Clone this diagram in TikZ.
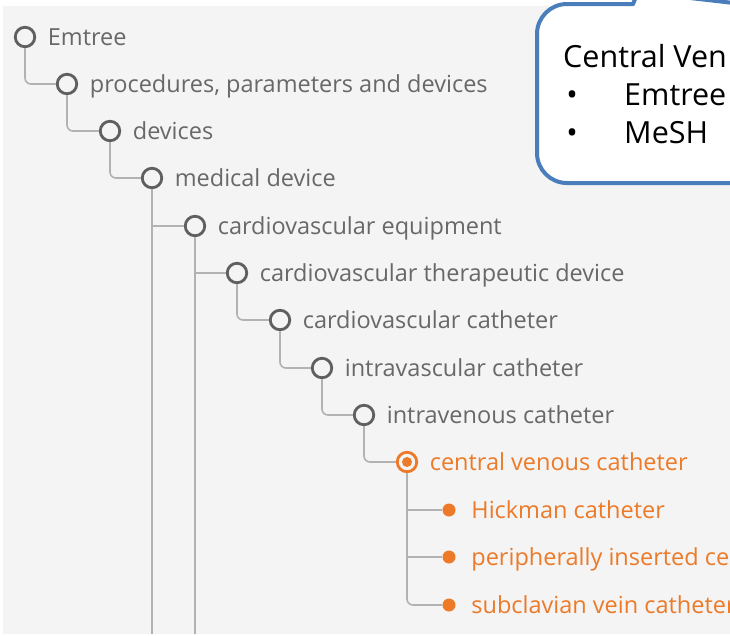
\documentclass[tikz,border=0pt]{standalone}
\usepackage{fontspec}
\setmainfont{Open Sans}
\usetikzlibrary{positioning}
\definecolor{panelgrey}{RGB}{244,244,244}
\definecolor{termgrey}{RGB}{104,104,104}
\definecolor{ringgrey}{RGB}{95,95,95}
\definecolor{branchgrey}{RGB}{178,178,178}
\definecolor{pickorange}{RGB}{236,122,40}
\definecolor{calloutblue}{RGB}{74,126,187}
\tikzset{
  ring/.style={circle, draw=ringgrey, line width=2.8pt, fill=panelgrey, minimum size=19.5pt, inner sep=0pt},
  pickring/.style={ring, draw=pickorange, path picture={\fill[pickorange] (path picture bounding box.center) circle (5pt);}},
  leafdot/.style={circle, fill=pickorange, minimum size=13pt, inner sep=0pt},
  termlabel/.style={font=\fontsize{23.5}{28}\selectfont, text=termgrey, inner sep=1pt, text height=16.8pt, text depth=0pt},
  picklabel/.style={termlabel, text=pickorange},
  branch/.style={draw=branchgrey, line width=1.6pt},
  elbow/.style={branch, rounded corners=6pt},
  callout/.style={draw=calloutblue, line width=4pt, line cap=round},
  callouttext/.style={font=\fontsize{30.5}{36}\selectfont, inner sep=0pt, text height=21.8pt, text depth=0pt}
}
\begin{document}
\begin{tikzpicture}[x=1pt, y=-1pt]
\useasboundingbox (0,0) rectangle (730,635);
\clip (0,0) rectangle (730,635);
\fill[panelgrey] (3,6) rectangle (730,634);
\coordinate (floor) at (0,634);

% tree of terms
\node[ring] (n0) at (25,37) {};
\node[ring] (n1) at (67,84) {};
\node[ring] (n2) at (110,131) {};
\node[ring] (n3) at (152,178) {};
\node[ring] (n4) at (195,226) {};
\node[ring] (n5) at (237,273) {};
\node[ring] (n6) at (280,320) {};
\node[ring] (n7) at (322,368) {};
\node[ring] (n8) at (364,415) {};
\node[pickring] (n9) at (407,462) {};
\node[leafdot] (l1) at (449,510) {};
\node[leafdot] (l2) at (449,557) {};
\node[leafdot] (l3) at (449,605) {};

\node[termlabel, right=10.5pt of n0] (t0) {Emtree};
\node[termlabel, right=10.5pt of n1] (t1) {procedures, parameters and devices};
\node[termlabel, right=10.5pt of n2] (t2) {devices};
\node[termlabel, right=10.5pt of n3] (t3) {medical device};
\node[termlabel, right=10.5pt of n4] (t4) {cardiovascular equipment};
\node[termlabel, right=10.5pt of n5] (t5) {cardiovascular therapeutic device};
\node[termlabel, right=10.5pt of n6] (t6) {cardiovascular catheter};
\node[termlabel, right=10.5pt of n7] (t7) {intravascular catheter};
\node[termlabel, right=10.5pt of n8] (t8) {intravenous catheter};
\node[picklabel, right=10.5pt of n9] (t9) {central venous catheter};
\node[picklabel, right=14.5pt of l1] (s1) {Hickman catheter};
\node[picklabel, right=14.5pt of l2] (s2) {peripherally inserted ce};
\node[picklabel, right=14.5pt of l3] (s3) {subclavian vein catheter};

% branches
\draw[elbow] (n0.south) |- (n1.west);
\draw[elbow] (n1.south) |- (n2.west);
\draw[elbow] (n2.south) |- (n3.west);
\draw[branch] (n3.south) -- (n3 |- floor);
\draw[branch] (n3 |- n4) -- (n4.west);
\draw[branch] (n4.south) -- (n4 |- floor);
\draw[branch] (n4 |- n5) -- (n5.west);
\draw[elbow] (n5.south) |- (n6.west);
\draw[elbow] (n6.south) |- (n7.west);
\draw[elbow] (n7.south) |- (n8.west);
\draw[elbow] (n8.south) |- (n9.west);
\draw[branch] (n9.south) -- (n9 |- l2);
\draw[branch] (n9 |- l1) -- (l1.west);
\draw[branch] (n9 |- l2) -- (l2.west);
\draw[elbow] (n9 |- l2) |- (l3.west);

% callout
\fill[white, rounded corners=30pt] (537,4) rectangle (790,183);
\fill[white] (633,4) -- (640,-12) -- (690,-12) -- (760,6) -- cycle;
\draw[callout, rounded corners=30pt] (633,4) -- (537,4) -- (537,183) -- (790,183);
\draw[callout] (633,4) -- (638,-8);
\draw[callout] (690,-2) -- (760,6);
\node[callouttext, anchor=west] (head) at (563,57) {Central Ven};
\node[callouttext] (b1) at (572,95) {\textbullet};
\node[callouttext, anchor=west] (e1) at (624,95) {Emtree};
\node[callouttext] (b2) at (572,133) {\textbullet};
\node[callouttext, anchor=west] (e2) at (624,133) {MeSH};
\end{tikzpicture}
\end{document}
